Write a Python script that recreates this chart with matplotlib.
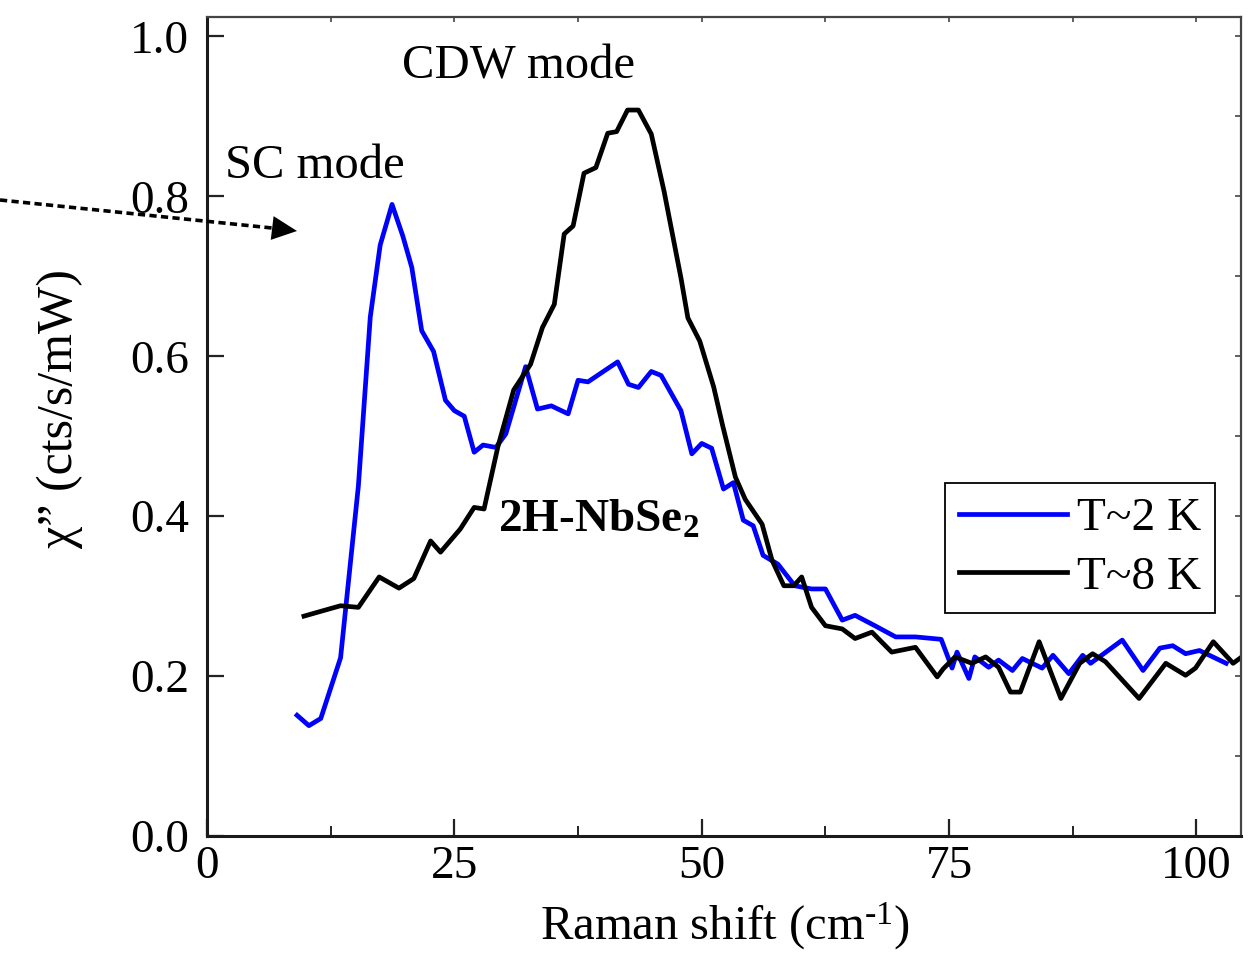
import matplotlib
matplotlib.use("Agg")
import numpy as np
import matplotlib.pyplot as plt
from matplotlib.patches import FancyArrowPatch
from matplotlib.lines import Line2D
from matplotlib.ticker import MultipleLocator, FormatStrFormatter

# ---------------- data ----------------
x_2K = [9.1, 10.3, 11.5, 13.5, 15.3, 16.5, 17.5, 18.7, 19.8, 20.7, 21.7, 22.9,
        24.1, 25.0, 26.0, 27.0, 27.9, 29.2, 30.2, 32.2, 33.4, 34.8, 36.5, 37.5,
        38.5, 41.5, 42.6, 43.6, 44.9, 45.9, 47.9, 49.0, 50.0, 51.0, 52.2, 53.2,
        54.2, 55.2, 56.2, 57.7, 59.4, 61.1, 62.5, 64.2, 65.5, 67.5, 69.6, 71.6,
        74.2, 75.3, 75.8, 77.0, 77.6, 79.0, 80.0, 81.4, 82.4, 84.4, 85.5, 87.1,
        88.5, 89.3, 92.5, 94.6, 96.3, 97.6, 98.9, 100.3, 103.0]
y_2K = [0.151, 0.138, 0.147, 0.223, 0.438, 0.649, 0.739, 0.790, 0.750, 0.711, 0.632, 0.606,
        0.545, 0.532, 0.525, 0.480, 0.489, 0.486, 0.503, 0.587, 0.534, 0.538, 0.528, 0.570,
        0.568, 0.593, 0.565, 0.561, 0.581, 0.576, 0.532, 0.478, 0.491, 0.485, 0.434, 0.442,
        0.395, 0.388, 0.351, 0.340, 0.313, 0.309, 0.309, 0.270, 0.276, 0.263, 0.249, 0.249,
        0.246, 0.210, 0.230, 0.197, 0.224, 0.211, 0.220, 0.207, 0.222, 0.210, 0.226, 0.203,
        0.226, 0.216, 0.245, 0.207, 0.235, 0.238, 0.228, 0.232, 0.216]

x_8K = [9.8, 11.5, 13.5, 15.3, 17.4, 19.4, 20.9, 22.6, 23.6, 25.6, 27.0, 28.0,
        29.4, 31.0, 32.7, 33.9, 35.1, 36.1, 37.0, 38.1, 39.3, 40.5, 41.4, 42.5,
        43.6, 44.9, 46.2, 47.9, 48.6, 49.8, 51.2, 52.1, 53.4, 54.4, 56.1, 57.1,
        58.3, 59.3, 60.1, 61.1, 62.5, 64.2, 65.5, 67.2, 69.2, 71.6, 73.8, 74.4,
        75.6, 77.3, 78.7, 80.0, 81.2, 82.2, 84.1, 86.3, 88.2, 89.5, 90.8, 94.2,
        96.9, 98.9, 99.9, 101.7, 103.7, 104.8]
y_8K = [0.275, 0.281, 0.288, 0.286, 0.324, 0.310, 0.322, 0.369, 0.355, 0.384, 0.411, 0.409,
        0.487, 0.558, 0.590, 0.636, 0.665, 0.753, 0.763, 0.829, 0.836, 0.879, 0.881, 0.908,
        0.908, 0.878, 0.806, 0.698, 0.648, 0.619, 0.562, 0.514, 0.449, 0.421, 0.390, 0.345,
        0.313, 0.313, 0.324, 0.286, 0.263, 0.259, 0.247, 0.255, 0.230, 0.236, 0.199, 0.209,
        0.224, 0.216, 0.224, 0.211, 0.180, 0.180, 0.243, 0.172, 0.216, 0.228, 0.218, 0.172,
        0.216, 0.201, 0.210, 0.243, 0.216, 0.226]

series_labels = ["T~2 K", "T~8 K"]
x_ticks = [0, 25, 50, 75, 100]
y_ticks = [0.0, 0.2, 0.4, 0.6, 0.8, 1.0]

# ---------------- style ----------------
plt.rcParams['font.family'] = ['Liberation Serif', 'DejaVu Serif']
plt.rcParams['mathtext.fontset'] = 'custom'
plt.rcParams['mathtext.rm'] = 'Liberation Serif'
plt.rcParams['mathtext.bf'] = 'Liberation Serif:bold'
plt.rcParams['mathtext.it'] = 'Liberation Serif:italic'

W, H = 1256, 955
fig = plt.figure(figsize=(W / 100, H / 100), dpi=100)
ax = fig.add_axes([207 / W, (H - 836) / H, (1241 - 207) / W, (836 - 16.5) / H])

ax.plot(x_2K, y_2K, color='#0000ff', lw=3.4, label=series_labels[0])
ax.plot(x_8K, y_8K, color='black', lw=3.4, label=series_labels[1])

ax.set_xlim(0, 104.5)
ax.set_ylim(0, 1.025)
ax.set_xticks(x_ticks)
ax.set_yticks(y_ticks)
ax.xaxis.set_minor_locator(MultipleLocator(12.5))
ax.yaxis.set_major_formatter(FormatStrFormatter('%.1f'))

ax.tick_params(axis='both', which='major', direction='in', length=12, width=1.6,
               labelsize=34, color='#222222')
ax.tick_params(axis='x', which='major', pad=7)
ax.tick_params(axis='y', which='major', pad=13)
ax.tick_params(axis='x', which='minor', direction='in', length=7, width=1.4, color='#222222')

for side in ['left', 'bottom']:
    ax.spines[side].set_linewidth(2.2)
    ax.spines[side].set_color('#1a1a1a')
for side in ['top', 'right']:
    ax.spines[side].set_linewidth(1.6)
    ax.spines[side].set_color('#444444')

# small ticks on top and right
secx = ax.secondary_xaxis('top')
secx.set_xticks(np.arange(12.5, 104.5, 12.5))
secx.tick_params(direction='in', length=4, width=1.2, labeltop=False, color='#444444')
secx.spines['top'].set_visible(False)
secy = ax.secondary_yaxis('right')
secy.set_yticks(np.arange(0.1, 1.01, 0.1))
secy.tick_params(direction='in', length=4, width=1.2, labelright=False, color='#444444')
secy.spines['right'].set_visible(False)

# annotations
ax.text(19.7, 0.948, 'CDW mode', fontsize=35, ha='left', va='baseline')
ax.text(1.8, 0.823, 'SC mode', fontsize=35, ha='left', va='baseline')
ax.text(29.4, 0.380, r'2H-NbSe$_{\mathbf{2}}$', fontsize=34, fontweight='bold',
        ha='left', va='baseline')

# axis labels
fig.text(725 / W, (H - 940) / H, r'Raman shift (cm$^{\text{-}1}$)', fontsize=35,
         ha='center', va='baseline')
fig.text(60 / W, (H - 408) / H, 'χ” (cts/s/mW)', fontsize=36, rotation=90,
         ha='center', va='center')

# dotted arrow coming from the left edge
p0 = (0.0, (H - 200) / H)
pb = (272 / W, (H - 228) / H)
pt = (297 / W, (H - 231) / H)
fig.add_artist(Line2D([p0[0], pb[0]], [p0[1], pb[1]], transform=fig.transFigure,
                      color='black', lw=2.6, linestyle=(0, (2.0, 1.2))))
fig.add_artist(FancyArrowPatch(pb, pt, transform=fig.transFigure,
                               arrowstyle='-|>,head_length=18,head_width=8.6',
                               mutation_scale=1, color='black', lw=0,
                               shrinkA=0, shrinkB=0))

leg = ax.legend(loc='center', bbox_to_anchor=(0.8443, 0.3514), fontsize=34,
                handlelength=2.3, handletextpad=0.2, borderpad=0.3,
                labelspacing=0.33, frameon=True, fancybox=False,
                edgecolor='black', framealpha=1, borderaxespad=0)
leg.get_frame().set_linewidth(1.3)

fig.savefig('out.png', dpi=100)
